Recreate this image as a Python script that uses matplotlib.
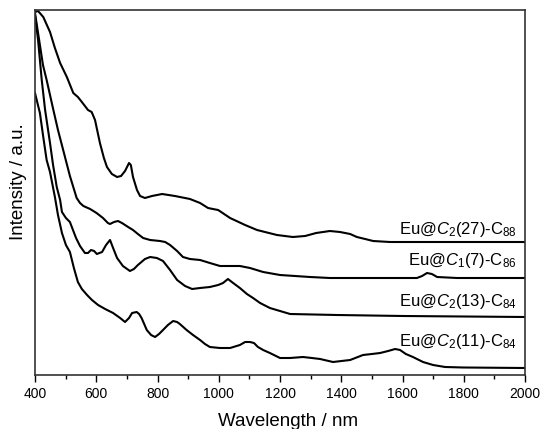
import numpy as np
import matplotlib
matplotlib.use("Agg")
import matplotlib.pyplot as plt
from matplotlib.ticker import MultipleLocator

plt.rcParams["font.family"] = ["Liberation Sans", "DejaVu Sans"]
plt.rcParams["mathtext.fontset"] = "custom"
plt.rcParams["mathtext.rm"] = "Liberation Sans"
plt.rcParams["mathtext.it"] = "Liberation Sans:italic"

# ---- data (wavelength nm, intensity a.u.) ----

# Eu@C2(27)-C88
wl_88 = [400, 410, 427, 449, 465, 482, 504, 525, 540, 553, 563, 573, 585, 596,
         612, 625, 635, 651, 668, 681, 694, 707, 713, 720, 733, 743, 759, 782,
         815, 857, 906, 939, 965, 981, 998, 1037, 1086, 1125, 1190, 1242, 1282,
         1318, 1363, 1396, 1429, 1451, 1478, 1504, 1559, 1602, 2000]
int_88 = [363, 364, 358, 343, 327, 312, 298, 282, 278, 273, 269, 265, 263, 255,
          232, 217, 208, 201, 198, 199, 204, 212, 210, 198, 185, 179, 177, 179,
          181, 179, 176, 172, 167, 166, 165, 157, 150, 145, 140, 138, 139,
          142, 144, 143, 141, 138, 136, 134, 133, 133, 133]

# Eu@C1(7)-C86
wl_86 = [400, 416, 426, 438, 449, 460, 475, 492, 514, 536, 547, 558, 580, 601,
         622, 638, 645, 658, 671, 684, 704, 720, 736, 753, 776, 808, 825, 841,
         864, 883, 906, 939, 971, 1004, 1069, 1102, 1145, 1200, 1298, 1363,
         1647, 1664, 1680, 1696, 1713, 1778, 2000]
int_86 = [362, 330, 310, 295, 280, 265, 245, 225, 199, 177, 172, 169, 166, 162,
          157, 152, 151, 153, 154, 152, 148, 145, 141, 137, 135, 134, 133, 130,
          124, 118, 116, 115, 112, 109, 109, 107, 103, 100, 98, 97,
          97, 99, 102, 101, 98, 97, 97]

# Eu@C2(13)-C84
wl_84b = [400, 410, 422, 433, 449, 459, 471, 482, 488, 501, 514, 524, 534, 547,
          563, 573, 583, 593, 602, 619, 632, 645, 655, 668, 687, 710, 723, 736,
          759, 776, 798, 818, 841, 864, 890, 913, 939, 971, 998, 1014, 1030,
          1047, 1069, 1092, 1112, 1135, 1167, 1200, 1233, 1386, 1602, 2000]
int_84b = [360, 335, 295, 265, 232, 210, 188, 175, 163, 157, 153, 145, 137, 129,
           122, 122, 125, 124, 121, 123, 130, 135, 127, 117, 109, 104, 106, 110,
           116, 118, 117, 114, 105, 95, 89, 86, 87, 88, 90, 92, 96,
           92, 87, 81, 77, 72, 67, 64, 61, 60, 59, 58]

# Eu@C2(11)-C84
wl_84a = [400, 416, 427, 438, 449, 465, 475, 488, 501, 514, 527, 540, 553, 570,
          586, 606, 629, 655, 678, 694, 707, 717, 732, 740, 748, 765, 779, 792,
          805, 818, 834, 851, 864, 873, 895, 916, 939, 955, 971, 1004, 1037,
          1053, 1069, 1086, 1102, 1115, 1128, 1145, 1167, 1200, 1233, 1275,
          1304, 1331, 1373, 1429, 1471, 1500, 1527, 1553, 1576, 1592, 1611,
          1634, 1667, 1700, 1739, 1798, 2000]
int_84a = [282, 262, 238, 215, 203, 178, 160, 142, 130, 123, 107, 93, 86, 80,
           75, 70, 66, 62, 57, 53, 57, 62, 63, 61, 57, 45, 40, 38,
           41, 45, 50, 54, 53, 51, 45, 40, 35, 31, 28, 27, 27,
           28.5, 30, 33, 33, 32, 28, 25, 22, 17, 17, 18,
           17, 16, 13, 15, 20, 21, 22, 24, 26, 25, 21,
           18, 13, 10, 8, 7.5, 7]

labels = [r"Eu@$\mathit{C}_2$(27)-C$_{88}$",
          r"Eu@$\mathit{C}_1$(7)-C$_{86}$",
          r"Eu@$\mathit{C}_2$(13)-C$_{84}$",
          r"Eu@$\mathit{C}_2$(11)-C$_{84}$"]
label_y = [141, 110, 69, 29]

# ---- figure ----
fig = plt.figure(figsize=(5.41, 4.29), dpi=100)
ax = fig.add_axes([35 / 541, 54 / 429, 490 / 541, 365 / 429])

for xs, ys in [(wl_88, int_88), (wl_86, int_86), (wl_84b, int_84b), (wl_84a, int_84a)]:
    ax.plot(xs, ys, color="black", linewidth=1.5, solid_joinstyle="round")

for text, y in zip(labels, label_y):
    ax.text(1974, y, text, ha="right", va="baseline", fontsize=12)

ax.set_xlim(400, 2000)
ax.set_ylim(0, 365)

ax.xaxis.set_major_locator(MultipleLocator(200))
ax.xaxis.set_minor_locator(MultipleLocator(100))
ax.set_yticks([])
ax.tick_params(axis="x", which="major", direction="out", length=5, width=1, labelsize=10)
ax.tick_params(axis="x", which="minor", direction="out", length=3, width=1)

for spine in ax.spines.values():
    spine.set_color("#333333")
    spine.set_linewidth(1.2)

ax.set_xlabel("Wavelength / nm", fontsize=13.5)
ax.set_ylabel("Intensity / a.u.", fontsize=13.5)
ax.xaxis.set_label_coords(0.516, -0.104)
ax.yaxis.set_label_coords(-0.016, 0.529)

fig.savefig("out.png", dpi=100)
